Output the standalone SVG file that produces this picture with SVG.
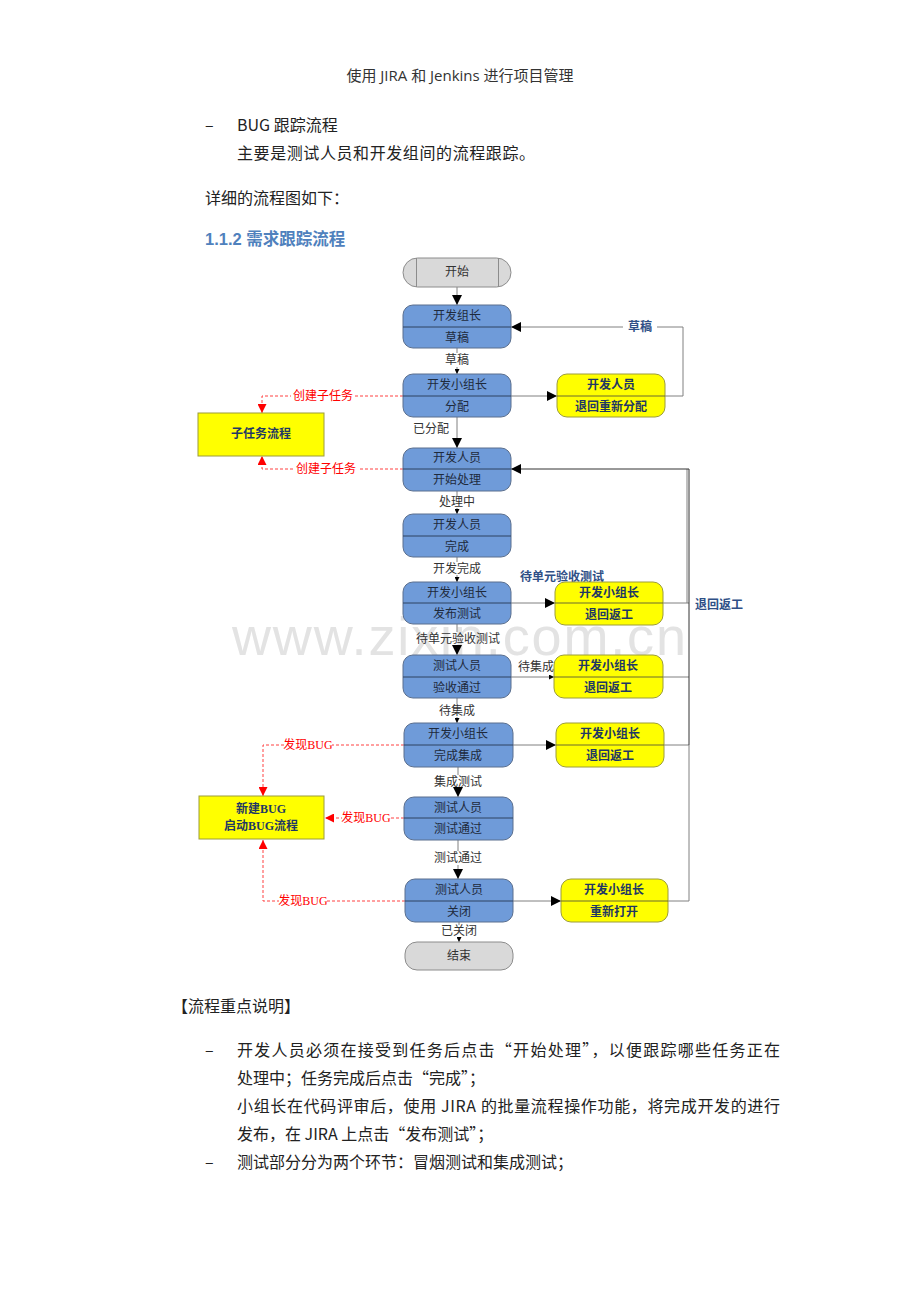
<svg xmlns="http://www.w3.org/2000/svg" width="920" height="1302" viewBox="0 0 920 1302">
<style>
.doc{font-family:"Noto Sans CJK SC","Noto Sans",sans-serif;fill:#222;font-size:16px}
.hd{font-family:"Open Sans","Noto Sans CJK SC",sans-serif;fill:#333;font-size:15px}
.h2{font-family:"Liberation Sans","Noto Sans CJK SC",sans-serif;fill:#4f81bd;font-size:16.5px;font-weight:bold}
.t{font-family:"Liberation Serif","Noto Sans CJK SC",serif;font-size:12px;text-anchor:middle;fill:#1e2a3c}
.ty{font-family:"Liberation Serif","Noto Sans CJK SC",serif;font-size:12px;text-anchor:middle;fill:#1f3864;font-weight:bold}
.lb{font-family:"Liberation Serif","Noto Sans CJK SC",serif;font-size:12px;text-anchor:middle;fill:#333}
.lbb{font-family:"Liberation Serif","Noto Sans CJK SC",serif;font-size:12px;text-anchor:middle;fill:#2f4f86;font-weight:bold}
.lr{font-family:"Liberation Serif","Noto Sans CJK SC",serif;font-size:12px;text-anchor:middle;fill:#ff0000}
.blue{fill:#6f9bd9;stroke:#5b6f8e;stroke-width:1}
.yel{fill:#ffff00;stroke:#9c9c3a;stroke-width:1}
.gry{fill:#d9d9d9;stroke:#8c8c8c;stroke-width:1}
.dv{stroke:#2e4260;stroke-width:1}
.dvy{stroke:#6a6a30;stroke-width:1}
.ln{fill:none;stroke:#808080;stroke-width:1}
.lk{fill:none;stroke:#333;stroke-width:1}
.rd{fill:none;stroke:#ff4040;stroke-width:1;stroke-dasharray:3,2}
.wm{font-family:"Liberation Sans",sans-serif;font-size:54px;fill:#e3e3e3}
</style>
<defs>
<marker id="a" viewBox="0 0 10 10" refX="10" refY="5" markerWidth="10" markerHeight="10" markerUnits="userSpaceOnUse" orient="auto"><path d="M0,0 L10,5 L0,10 z" fill="#000"/></marker>
<marker id="as" viewBox="0 0 10 10" refX="10" refY="5" markerWidth="5" markerHeight="5" markerUnits="userSpaceOnUse" orient="auto"><path d="M0,0 L10,5 L0,10 z" fill="#000"/></marker>
<marker id="ar" viewBox="0 0 10 10" refX="10" refY="5" markerWidth="9" markerHeight="9" markerUnits="userSpaceOnUse" orient="auto"><path d="M0,0 L10,5 L0,10 z" fill="#ff0000"/></marker>
</defs>
<rect width="920" height="1302" fill="#fff"/>

<text class="wm" x="232" y="655" textLength="454">www.zixin.com.cn</text>

<g id="header">
<text class="hd" x="460" y="81" text-anchor="middle">使用 JIRA 和 Jenkins 进行项目管理</text>
<text class="doc" x="205" y="131">–</text>
<text class="doc" x="237" y="131">BUG 跟踪流程</text>
<text class="doc" x="237" y="159" textLength="298">主要是测试人员和开发组间的流程跟踪。</text>
<text class="doc" x="205" y="204">详细的流程图如下：</text>
<text class="h2" x="205" y="245">1.1.2 需求跟踪流程</text>
</g>

<g id="connectors">
<line class="ln" x1="457" y1="287" x2="457" y2="305" marker-end="url(#a)"/>
<line class="ln" x1="457" y1="348" x2="457" y2="353"/>
<line class="ln" x1="457" y1="367" x2="457" y2="374" marker-end="url(#as)"/>
<line class="ln" x1="457" y1="417" x2="457" y2="448" marker-end="url(#a)"/>
<line class="ln" x1="457" y1="491" x2="457" y2="496"/>
<line class="ln" x1="457" y1="508" x2="457" y2="514" marker-end="url(#as)"/>
<line class="ln" x1="457" y1="557" x2="457" y2="562"/>
<line class="ln" x1="457" y1="575" x2="457" y2="582" marker-end="url(#as)"/>
<line class="ln" x1="457" y1="624" x2="457" y2="632"/>
<line class="ln" x1="457" y1="645" x2="457" y2="655" marker-end="url(#a)"/>
<line class="ln" x1="457" y1="698" x2="457" y2="704"/>
<line class="ln" x1="457" y1="717" x2="457" y2="723" marker-end="url(#as)"/>
<line class="ln" x1="458" y1="767" x2="458" y2="775"/>
<line class="ln" x1="458" y1="788" x2="458" y2="797" marker-end="url(#a)"/>
<line class="ln" x1="458" y1="840" x2="458" y2="851"/>
<line class="ln" x1="458" y1="865" x2="458" y2="879" marker-end="url(#a)"/>
<line class="ln" x1="459" y1="922" x2="459" y2="925"/>
<line class="ln" x1="459" y1="938" x2="459" y2="942" marker-end="url(#as)"/>

<line class="ln" x1="511" y1="396" x2="557" y2="396" marker-end="url(#a)"/>
<polyline class="ln" points="665,396 683,396 683,327 511,327" marker-end="url(#a)"/>
<line class="ln" x1="511" y1="603" x2="555" y2="603" marker-end="url(#a)"/>
<line class="ln" x1="511" y1="677" x2="554" y2="677" marker-end="url(#as)"/>
<line class="ln" x1="513" y1="745" x2="556" y2="745" marker-end="url(#a)"/>
<line class="ln" x1="513" y1="901" x2="561" y2="901" marker-end="url(#a)"/>

<line class="ln" x1="663" y1="603" x2="689" y2="603"/>
<line class="ln" x1="663" y1="677" x2="689" y2="677"/>
<line class="ln" x1="664" y1="745" x2="689" y2="745"/>
<line class="ln" x1="668" y1="901" x2="689" y2="901"/>
<polyline class="ln" points="687,603 687,469"/>
<polyline class="lk" points="689,745 689,469 511,469" marker-end="url(#a)"/>
<line class="ln" x1="689" y1="745" x2="689" y2="901"/>

<polyline class="rd" points="403,396 262,396 262,413" marker-end="url(#ar)"/>
<polyline class="rd" points="403,469 262,469 262,456" marker-end="url(#ar)"/>
<polyline class="rd" points="404,745 263,745 263,796" marker-end="url(#ar)"/>
<line class="rd" x1="404" y1="818" x2="325" y2="818" marker-end="url(#ar)"/>
<polyline class="rd" points="405,901 263,901 263,840" marker-end="url(#ar)"/>

<text class="lb" x="457" y="364">草稿</text>
<text class="lb" x="431" y="433">已分配</text>
<text class="lb" x="457" y="506">处理中</text>
<text class="lb" x="457" y="573">开发完成</text>
<text class="lb" x="458" y="643">待单元验收测试</text>
<text class="lb" x="457" y="715">待集成</text>
<text class="lb" x="458" y="786">集成测试</text>
<text class="lb" x="458" y="862">测试通过</text>
<text class="lb" x="459" y="935">已关闭</text>
<text class="lb" x="536" y="671">待集成</text>

<rect x="623" y="319" width="34" height="15" fill="#fff"/>
<text class="lbb" x="640" y="331">草稿</text>
<text class="lbb" x="562" y="581">待单元验收测试</text>
<text class="lbb" x="719" y="609">退回返工</text>

<rect x="291" y="389" width="64" height="14" fill="#fff"/>
<text class="lr" x="323" y="400">创建子任务</text>
<rect x="294" y="462" width="64" height="14" fill="#fff"/>
<text class="lr" x="326" y="473">创建子任务</text>
<rect x="284" y="738" width="48" height="14" fill="#fff"/>
<text class="lr" x="308" y="749">发现BUG</text>
<rect x="342" y="811" width="48" height="14" fill="#fff"/>
<text class="lr" x="366" y="822">发现BUG</text>
<rect x="279" y="894" width="48" height="14" fill="#fff"/>
<text class="lr" x="303" y="905">发现BUG</text>
</g>

<g id="start">
<rect class="gry" x="403" y="258" width="108" height="29" rx="14.5"/>
<line stroke="#8c8c8c" x1="416.5" y1="258" x2="416.5" y2="287"/>
<line stroke="#8c8c8c" x1="498.5" y1="258" x2="498.5" y2="287"/>
<text class="lb" x="457" y="276">开始</text>
</g>

<g id="n1">
<rect class="blue" x="403" y="305" width="108" height="43" rx="10"/>
<line class="dv" x1="403" y1="327" x2="511" y2="327"/>
<text class="t" x="457" y="320">开发组长</text>
<text class="t" x="457" y="342">草稿</text>
</g>

<g id="n2">
<rect class="blue" x="403" y="374" width="108" height="43" rx="10"/>
<line class="dv" x1="403" y1="396" x2="511" y2="396"/>
<text class="t" x="457" y="389">开发小组长</text>
<text class="t" x="457" y="411">分配</text>
</g>

<g id="y1">
<rect class="yel" x="557" y="374" width="108" height="43" rx="10"/>
<line class="dvy" x1="557" y1="396" x2="665" y2="396"/>
<text class="ty" x="611" y="389">开发人员</text>
<text class="ty" x="611" y="411">退回重新分配</text>
</g>

<g id="sub">
<rect class="yel" x="198" y="413" width="126" height="43"/>
<text class="ty" x="261" y="438">子任务流程</text>
</g>

<g id="n3">
<rect class="blue" x="403" y="448" width="108" height="43" rx="10"/>
<line class="dv" x1="403" y1="469" x2="511" y2="469"/>
<text class="t" x="457" y="462">开发人员</text>
<text class="t" x="457" y="484">开始处理</text>
</g>

<g id="n4">
<rect class="blue" x="403" y="514" width="108" height="43" rx="10"/>
<line class="dv" x1="403" y1="536" x2="511" y2="536"/>
<text class="t" x="457" y="529">开发人员</text>
<text class="t" x="457" y="551">完成</text>
</g>

<g id="n5">
<rect class="blue" x="403" y="582" width="108" height="42" rx="10"/>
<line class="dv" x1="403" y1="603" x2="511" y2="603"/>
<text class="t" x="457" y="597">开发小组长</text>
<text class="t" x="457" y="618">发布测试</text>
</g>

<g id="y2">
<rect class="yel" x="555" y="582" width="108" height="43" rx="10"/>
<line class="dvy" x1="555" y1="603" x2="663" y2="603"/>
<text class="ty" x="609" y="597">开发小组长</text>
<text class="ty" x="609" y="619">退回返工</text>
</g>

<g id="n6">
<rect class="blue" x="403" y="655" width="108" height="43" rx="10"/>
<line class="dv" x1="403" y1="677" x2="511" y2="677"/>
<text class="t" x="457" y="670">测试人员</text>
<text class="t" x="457" y="692">验收通过</text>
</g>

<g id="y3">
<rect class="yel" x="554" y="655" width="109" height="43" rx="10"/>
<line class="dvy" x1="554" y1="677" x2="663" y2="677"/>
<text class="ty" x="608" y="670">开发小组长</text>
<text class="ty" x="608" y="692">退回返工</text>
</g>

<g id="n7">
<rect class="blue" x="404" y="723" width="109" height="44" rx="10"/>
<line class="dv" x1="404" y1="745" x2="513" y2="745"/>
<text class="t" x="458" y="738">开发小组长</text>
<text class="t" x="458" y="760">完成集成</text>
</g>

<g id="y4">
<rect class="yel" x="556" y="723" width="108" height="44" rx="10"/>
<line class="dvy" x1="556" y1="745" x2="664" y2="745"/>
<text class="ty" x="610" y="738">开发小组长</text>
<text class="ty" x="610" y="760">退回返工</text>
</g>

<g id="bug">
<rect class="yel" x="199" y="796" width="125" height="43"/>
<text class="ty" x="261" y="813">新建BUG</text>
<text class="ty" x="261" y="830">启动BUG流程</text>
</g>

<g id="n8">
<rect class="blue" x="404" y="797" width="109" height="43" rx="10"/>
<line class="dv" x1="404" y1="818" x2="513" y2="818"/>
<text class="t" x="458" y="812">测试人员</text>
<text class="t" x="458" y="833">测试通过</text>
</g>

<g id="n9">
<rect class="blue" x="405" y="879" width="108" height="43" rx="10"/>
<line class="dv" x1="405" y1="901" x2="513" y2="901"/>
<text class="t" x="459" y="894">测试人员</text>
<text class="t" x="459" y="916">关闭</text>
</g>

<g id="y5">
<rect class="yel" x="561" y="879" width="107" height="43" rx="10"/>
<line class="dvy" x1="561" y1="901" x2="668" y2="901"/>
<text class="ty" x="614" y="894">开发小组长</text>
<text class="ty" x="614" y="916">重新打开</text>
</g>

<g id="end">
<rect class="gry" x="405" y="942" width="108" height="28" rx="12"/>
<text class="lb" x="459" y="960">结束</text>
</g>

<g id="notes">
<text class="doc" x="172" y="1012">【流程重点说明】</text>
<text class="doc" x="205" y="1056">–</text>
<text class="doc" x="237" y="1056" textLength="543">开发人员必须在接受到任务后点击“开始处理”，以便跟踪哪些任务正在</text>
<text class="doc" x="237" y="1084">处理中；任务完成后点击“完成”；</text>
<text class="doc" x="237" y="1112" textLength="543">小组长在代码评审后，使用 JIRA 的批量流程操作功能，将完成开发的进行</text>
<text class="doc" x="237" y="1140">发布，在 JIRA 上点击“发布测试”；</text>
<text class="doc" x="205" y="1168">–</text>
<text class="doc" x="237" y="1168">测试部分分为两个环节：冒烟测试和集成测试；</text>
</g>
</svg>
